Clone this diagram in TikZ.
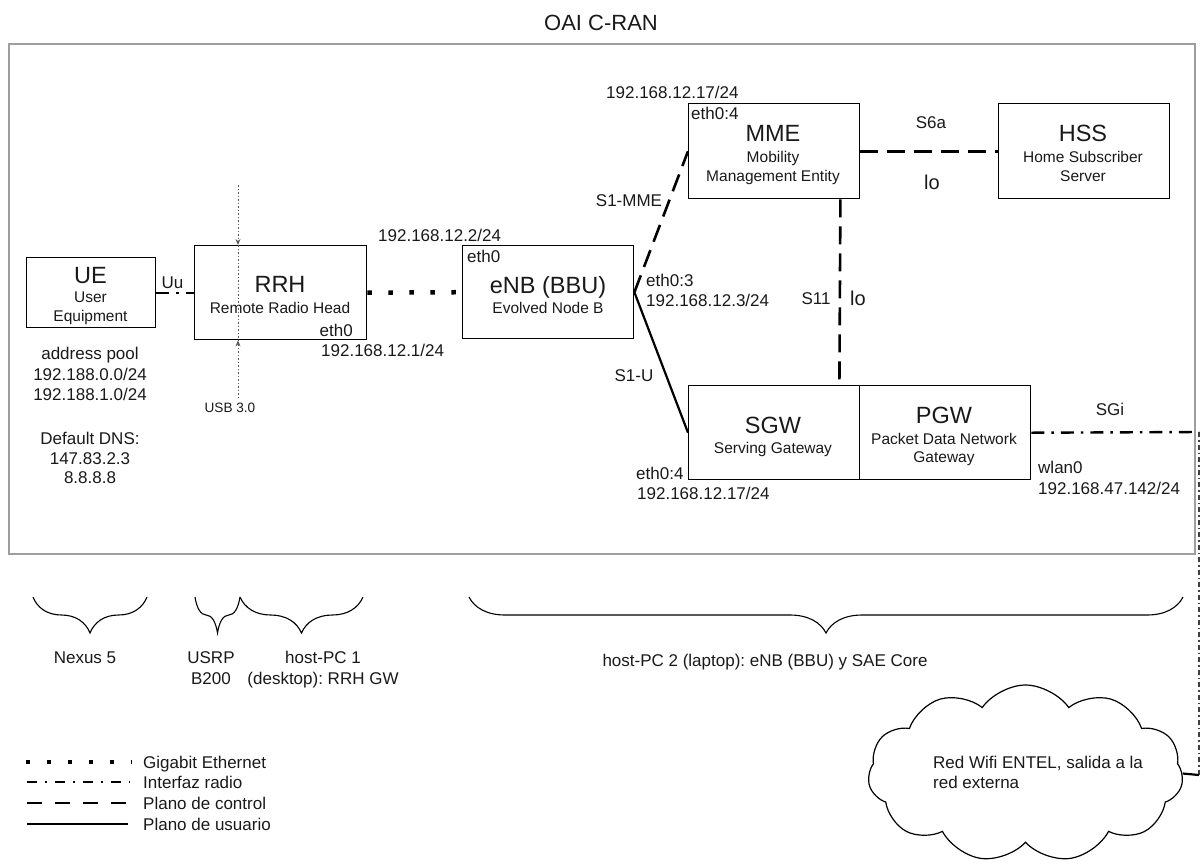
\documentclass[tikz,border=0pt]{standalone}
\usepackage{fontspec}
\setmainfont{Liberation Sans}
\usetikzlibrary{arrows.meta,shapes.symbols,decorations.pathreplacing}
\frenchspacing
\begin{document}
\frenchspacing
\begin{tikzpicture}[x=1pt,y=-1pt,
  box/.style={draw=black, line width=1.4pt, inner sep=0pt, anchor=north west},
  frm/.style={draw=black!38, line width=1.5pt, inner sep=0pt, anchor=north west},
  lbl/.style={inner sep=0pt, text=black!90, font=\fontsize{17}{20}\selectfont, text height=12.2pt, text depth=0pt},
  ttl/.style={lbl, font=\fontsize{23.5}{27}\selectfont, text height=16.9pt},
  sub/.style={lbl, font=\fontsize{15.5}{18}\selectfont, text height=11.2pt},
  big/.style={lbl, font=\fontsize{22}{26}\selectfont, text height=15.8pt},
  lofont/.style={lbl, font=\fontsize{20}{24}\selectfont, text height=14.4pt},
  tiny/.style={lbl, font=\fontsize{13.6}{16}\selectfont, text height=9.8pt},
  giga/.style={line width=4.5pt, dash pattern=on 4.5pt off 16.5pt},
  ctrl/.style={line width=2.6pt, dash pattern=on 18pt off 9pt},
  userpl/.style={line width=2.2pt},
  radio/.style={line width=2.4pt, dash pattern=on 13pt off 7pt on 2.5pt off 7pt},
  thinradio/.style={line width=1.2pt, draw=black!75, dash pattern=on 5pt off 3pt on 1.5pt off 3pt},
  usb/.style={line width=0.9pt, draw=black!65, dash pattern=on 1.5pt off 2pt},
  usbtip/.style={-{Stealth[length=6pt,width=5pt]}},
  brc/.style={decorate, decoration={brace, mirror, amplitude=36pt}, line width=1.1pt},
  lgiga/.style={line width=4pt, dash pattern=on 4pt off 17pt},
  lradio/.style={line width=1.8pt, dash pattern=on 10pt off 8pt on 2pt off 8pt},
  lctrl/.style={line width=2pt, dash pattern=on 15pt off 13pt},
  luser/.style={line width=2pt}
]
\useasboundingbox (0,0) rectangle (1202,863);

% title and frame
\node[big] (title) at (601,23) {OAI C-RAN};
\node[frm, minimum width=1186, minimum height=510] (frame) at (8,43) {};

% boxes
\node[box, minimum width=129, minimum height=70] (ue) at (26,257) {};
\node[box, minimum width=172, minimum height=94] (rrh) at (194,245) {};
\node[box, minimum width=171, minimum height=93] (enb) at (462,245) {};
\node[box, minimum width=171, minimum height=95] (mme) at (688,103) {};
\node[box, minimum width=171, minimum height=95] (hss) at (998,103) {};
\node[box, minimum width=171, minimum height=94] (sgw) at (688,385) {};
\node[box, minimum width=171, minimum height=94] (pgw) at (859,385) {};

% box texts
\node[ttl] (uet) at (90.5,275) {UE};
\node[sub] (ues1) at (90.5,297) {User};
\node[sub] (ues2) at (90.5,316) {Equipment};

\node[ttl] (rrht) at (280,284) {RRH};
\node[sub] (rrhs) at (280,308) {Remote Radio Head};
\node[lbl, anchor=east] (rrheth) at (353,330) {eth0};

\node[lbl, anchor=west] (enbeth) at (467,256) {eth0};
\node[ttl] (enbt) at (548,285) {eNB (BBU)};
\node[sub] (enbs) at (548,308) {Evolved Node B};

\node[lbl, anchor=west] (mmeeth) at (691,113) {eth0:4};
\node[ttl] (mmet) at (773,133) {MME};
\node[sub] (mmes1) at (773,157) {Mobility};
\node[sub] (mmes2) at (773,176) {Management Entity};

\node[ttl] (hsst) at (1083,133) {HSS};
\node[sub] (hsss1) at (1083,157) {Home Subscriber};
\node[sub] (hsss2) at (1083,176) {Server};

\node[ttl] (sgwt) at (773,425) {SGW};
\node[sub] (sgws) at (773,448) {Serving Gateway};

\node[ttl] (pgwt) at (944,415) {PGW};
\node[sub] (pgws1) at (944,439) {Packet Data Network};
\node[sub] (pgws2) at (944,457) {Gateway};

% cloud
\node[cloud, draw, cloud puffs=11, cloud puff arc=110, cloud ignores aspect,
      minimum width=315, minimum height=177, line width=1.2pt, inner sep=0pt] (cloud) at (1025.5,773.5) {};
\node[lbl, anchor=west] (cl1) at (933,762) {Red Wifi ENTEL, salida a la};
\node[lbl, anchor=west] (cl2) at (933,782) {red externa};

% connectors
\draw[radio] (ue.east) -- (rrh.west);
\draw[giga] (rrh.east) -- (enb.west);
\draw[ctrl] (enb.east) -- (mme.west);
\draw[userpl] (enb.east) -- (sgw.west);
\draw[ctrl] (mme.east) -- (hss.west);
\draw[ctrl] ([xshift=-20pt]mme.south east) -- ([xshift=-21pt]sgw.north east);

\coordinate (sgic) at (1199,432);
\coordinate (sgid) at (1199,775);
\draw[radio] (pgw.east) -- (sgic);
\draw[thinradio] (sgic) -- (sgid);
\draw[line width=2.2pt] (sgid) -- (cloud.east);

% USB
\coordinate (usbtop) at (238,185);
\coordinate (usbbot) at (238,398);
\draw[usb, usbtip] (usbtop) -- (usbtop |- rrh.north);
\draw[usb] (usbtop |- rrh.north) -- (usbtop |- rrh.south);
\draw[usb, usbtip] (usbbot) -- (usbbot |- rrh.south);
\node[tiny] (usbl) at (230,408) {USB 3.0};

% labels
\node[lbl] (uu) at (172.5,282) {Uu};
\node[lbl] (ap1) at (90,353) {address pool};
\node[lbl] (ap2) at (90,374) {192.188.0.0/24};
\node[lbl] (ap3) at (90,394) {192.188.1.0/24};
\node[lbl] (dns1) at (90,438) {Default DNS:};
\node[lbl] (dns2) at (90,458) {147.83.2.3};
\node[lbl] (dns3) at (90,477) {8.8.8.8};

\node[lbl, anchor=west] (ip1) at (321,350) {192.168.12.1/24};
\node[lbl, anchor=west] (ip2) at (378,235) {192.168.12.2/24};
\node[lbl, anchor=west] (ip17a) at (606,92) {192.168.12.17/24};
\node[lbl] (s1mme) at (629,200) {S1-MME};
\node[lbl, anchor=west] (eth03) at (646,280) {eth0:3};
\node[lbl, anchor=west] (ip3) at (646,300) {192.168.12.3/24};
\node[lbl] (s1u) at (634,375) {S1-U};
\node[lbl] (s6a) at (931,122) {S6a};
\node[lofont] (lo1) at (932,182) {lo};
\node[lbl] (s11) at (816,298) {S11};
\node[lofont] (lo2) at (858,298) {lo};
\node[lbl, anchor=west] (eth04) at (636,473) {eth0:4};
\node[lbl, anchor=west] (ip17b) at (637,493) {192.168.12.17/24};
\node[lbl] (sgi) at (1110,409) {SGi};
\node[lbl, anchor=west] (wlan) at (1038,467) {wlan0};
\node[lbl, anchor=west] (ip47) at (1038,488) {192.168.47.142/24};

% braces
\draw[brc] (33,597) -- (147,597);
\draw[brc] (195,597) -- (240,597);
\draw[brc] (240,597) -- (363,597);
\draw[brc] (469,597) -- (1183,597);
\node[lbl] (nexus) at (85,657) {Nexus 5};
\node[lbl] (usrp1) at (211,657) {USRP};
\node[lbl] (usrp2) at (211,678) {B200};
\node[lbl] (hp1a) at (323,657) {host-PC 1};
\node[lbl] (hp1b) at (323,678) {(desktop): RRH GW};
\node[lbl] (hp2) at (765,660) {host-PC 2 (laptop): eNB (BBU) y SAE Core};

% legend
\draw[lgiga] (26,762) -- (132,762);
\draw[lradio] (27,782) -- (130,782);
\draw[lctrl] (27,803) -- (128,803);
\draw[luser] (27,824) -- (128,824);
\node[lbl, anchor=west] (lg1) at (143,762) {Gigabit Ethernet};
\node[lbl, anchor=west] (lg2) at (143,782) {Interfaz radio};
\node[lbl, anchor=west] (lg3) at (143,803) {Plano de control};
\node[lbl, anchor=west] (lg4) at (143,824) {Plano de usuario};
\end{tikzpicture}
\end{document}
